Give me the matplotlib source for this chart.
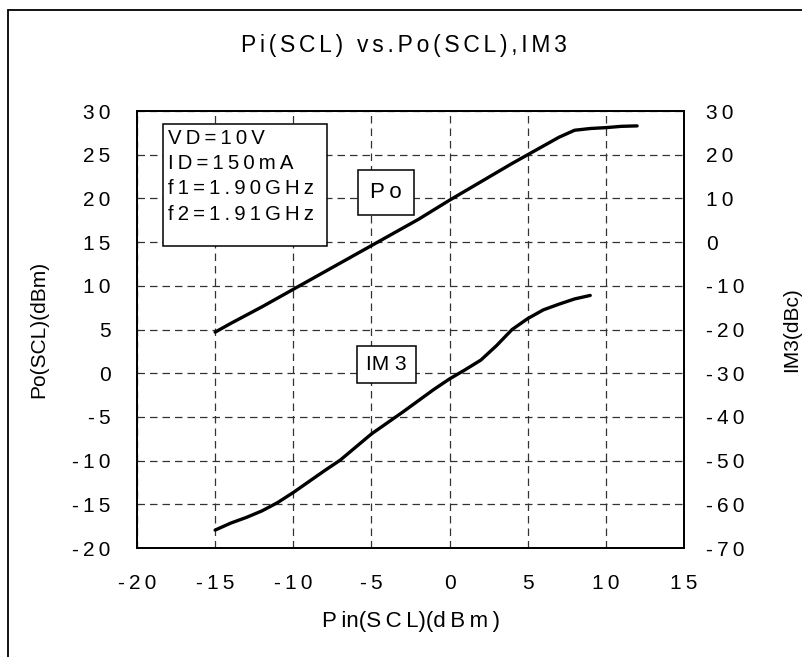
import matplotlib
matplotlib.use("Agg")
import matplotlib.pyplot as plt
from matplotlib.patches import Rectangle

plt.rcParams['font.family'] = ['Liberation Sans', 'DejaVu Sans']

# === Data ===
pin_po = [-15, -14, -12, -10, -8, -6, -4, -2, 0, 2, 4, 6, 7, 8, 9, 10, 11, 12]
po = [4.7, 5.7, 7.6, 9.6, 11.6, 13.6, 15.6, 17.6, 19.8, 21.9, 24.0, 26.0, 27.0, 27.8, 28.0, 28.1, 28.25, 28.3]

pin_im3 = [-15, -14, -13, -12, -11, -10, -9, -8, -7, -6, -5, -4, -3, -2, -1, 0, 1, 2, 3, 4, 5, 6, 7, 8, 9]
im3 = [-65.9, -64.3, -63.0, -61.5, -59.6, -57.3, -54.8, -52.3, -49.9, -46.9, -43.9, -41.4, -38.9,
       -36.3, -33.7, -31.3, -29.2, -27.0, -23.7, -20.0, -17.5, -15.5, -14.2, -13.0, -12.2]

x_ticks = [-20, -15, -10, -5, 0, 5, 10, 15]
po_ticks = [-20, -15, -10, -5, 0, 5, 10, 15, 20, 25, 30]
im3_ticks = [-70, -60, -50, -40, -30, -20, -10, 0, 10, 20, 30]
info_lines = ["VD=10V", "ID=150mA", "f1=1.90GHz", "f2=1.91GHz"]


def sp(s, gap="\u2009"):
    # wide letter spacing like the original
    return gap.join(s)


fig = plt.figure(figsize=(8.03, 6.57), dpi=100)
ax = fig.add_axes([0.1706, 0.1659, 0.6812, 0.6651])

ax.plot(pin_po, po, color="black", linewidth=2.4, solid_capstyle="round")
ax.set_xlim(-20, 15)
ax.set_ylim(-20, 30)
ax.set_xticks(x_ticks)
ax.set_xticklabels([sp(str(v)) for v in x_ticks], fontsize=15)
ax.set_yticks(po_ticks)
ax.set_yticklabels([sp(str(v)) for v in po_ticks], fontsize=15)
ax.tick_params(axis="x", length=0, pad=19)
ax.tick_params(axis="y", length=0, pad=19)
ax.grid(True, color="#333333", linestyle=(0, (6, 4)), linewidth=0.9)

ax2 = ax.twinx()
ax2.plot(pin_im3, im3, color="black", linewidth=2.4, solid_capstyle="round")
ax2.set_ylim(-70, 30)
ax2.set_yticks(im3_ticks)
ax2.set_yticklabels([sp(str(v)) for v in im3_ticks], fontsize=15)
ax2.tick_params(axis="y", length=0, pad=16)

for a in (ax, ax2):
    for s in a.spines.values():
        s.set_linewidth(1.3)
        s.set_color("black")

ax.set_xlabel("P\u2009in(S\u2009C\u2009L)(d\u2009B\u2009m\u2009)", fontsize=16)
ax.xaxis.set_label_coords(0.5005, -0.145)
ax.set_ylabel("Po(SCL)(dBm)", fontsize=15)
ax.yaxis.set_label_coords(-0.163, 0.5)
ax2.set_ylabel("IM3(dBc)", fontsize=15)
ax2.yaxis.set_label_coords(1.180, 0.5)

fig.text(0.5034, 0.9315, sp("Pi(SCL) vs.Po(SCL),IM3", "\u2006"),
         fontsize=16.5, ha="center", va="center")

# condition box
ax.add_patch(Rectangle((0.048, 0.691), 0.299, 0.279, transform=ax.transAxes,
                       facecolor="white", edgecolor="black", linewidth=1.1, zorder=5))
for i, line in enumerate(info_lines):
    ax.text(0.0561, 0.938 - i * 0.058, sp(line), transform=ax.transAxes,
            fontsize=14.7, ha="left", va="center", zorder=6)

# curve labels
ax.text(-4.07, 20.7, sp("Po"), fontsize=16, ha="center", va="center", zorder=6,
        bbox=dict(boxstyle="square,pad=0.55", facecolor="white", edgecolor="black", linewidth=1.1))
ax.text(-4.04, 1.0, "IM 3", fontsize=15, ha="center", va="center", zorder=6,
        bbox=dict(boxstyle="square,pad=0.45", facecolor="white", edgecolor="black", linewidth=1.1))

# outer frame running off the right and bottom edges
fig.patches.append(Rectangle((8 / 803, -0.05), 1.2, 1 - 10 / 657 + 0.05,
                             transform=fig.transFigure, fill=False,
                             edgecolor="black", linewidth=1.3))

fig.savefig("out.png", dpi=100)
